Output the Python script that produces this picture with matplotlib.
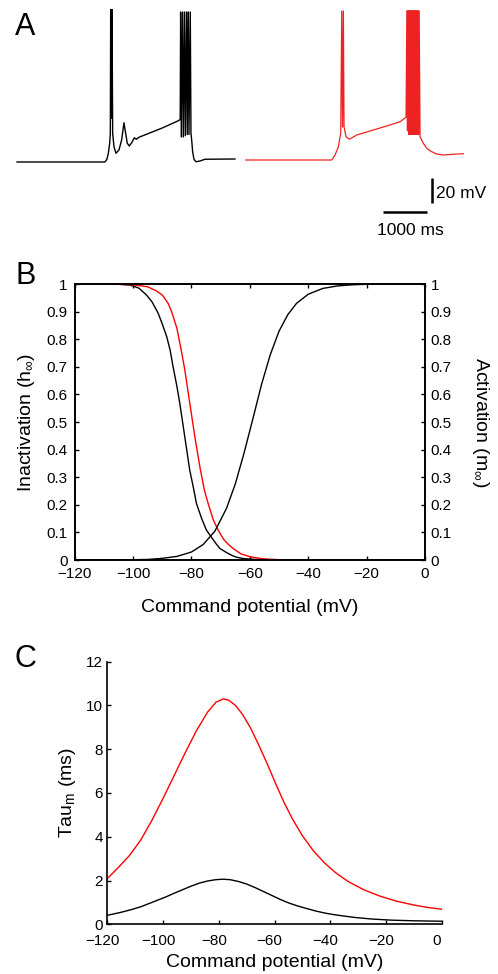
import matplotlib.pyplot as plt
import matplotlib.transforms as mtransforms
import numpy as np

plt.rcParams['font.family'] = ['Liberation Sans', 'DejaVu Sans']
plt.rcParams['mathtext.fontset'] = 'custom'
plt.rcParams['mathtext.rm'] = 'Liberation Sans'
plt.rcParams['mathtext.it'] = 'Liberation Sans:italic'

RED = '#ee2222'

# ---- Panel A: voltage traces (time in ms, membrane potential in mV) ----
black_t = [0, 2000, 2044, 2076, 2107, 2122, 2130, 2145, 2160, 2175, 2205, 2250,
           2318, 2379, 2432, 2470, 2507, 2553, 2607, 2667, 2712, 2773, 3289,
           3667, 3710, 3720, 3735, 3766, 3780, 3811, 3825, 3857, 3870, 3894,
           3910, 3939, 3955, 3971, 3993, 4023, 4069, 4160, 4273, 4955]
black_v = [-70, -70, -67.8, -63, -55, -47, 52, -35, 52, -47, -57.8, -63,
           -60.4, -52.4, -38.6, -47, -55, -57.2, -54.6, -50.6, -51.8, -50.2, -43,
           -37, -36, 50, -50, 50, -50, 50, -49, 50, -48, 50,
           -48, 50, -47, -52.4, -61.8, -67.8, -69.8, -69.2, -67.8, -67.6]

red_t = [0, 1955, 2030, 2105, 2159, 2182, 2200, 2219, 2234, 2280, 2355, 2523,
         2825, 3205, 3507, 3644, 3662, 3676, 3690, 3704, 3718, 3732, 3746, 3760,
         3774, 3788, 3802, 3816, 3830, 3844, 3858, 3872, 3886, 3900, 3914, 3928,
         3942, 3962, 4037, 4114, 4228, 4341, 4492, 4719, 4946]
red_v = [-68.4, -68.4, -64.4, -57.8, -47, 50.8, -42, 50.8, -41.8, -49.8, -51.8, -48.4,
         -45.2, -41.2, -37.8, -34.2, 51, -45, 51, -48, 51, -48, 51, -48,
         51, -48, 51, -48, 51, -48, 51, -48, 51, -48, 51, -48,
         51, -49.8, -55, -59, -61.8, -63.6, -64.4, -63.8, -63.4]

# ---- Panel B: steady-state inactivation / activation ----
h_black_v = [-120, -105, -101, -98, -95.4, -93.5, -91.4, -90, -88.5, -87.3, -86.3,
             -85, -84, -82.3, -80.6, -79.3, -78.3, -76.5, -74.9, -73, -71.5,
             -70.3, -68, -66, -64.6, -62, -58, -50, 0]
h_black = [1.0, 0.999, 0.996, 0.985, 0.96, 0.935, 0.894, 0.855, 0.81, 0.76, 0.70,
           0.63, 0.568, 0.447, 0.326, 0.26, 0.205, 0.15, 0.109, 0.08, 0.058,
           0.042, 0.027, 0.016, 0.01, 0.005, 0.002, 0.0, 0.0]

h_red_v = [-120, -105, -100, -95, -92, -90, -88, -86.8, -85, -83.5, -82.3, -80.6,
           -78.9, -77, -75.5, -74.3, -72.5, -70.9, -69, -67.5, -65.8, -63, -60,
           -56, -50, 0]
h_red = [1.0, 0.999, 0.997, 0.99, 0.975, 0.96, 0.93, 0.9, 0.84, 0.76, 0.69, 0.57,
         0.45, 0.33, 0.25, 0.205, 0.145, 0.109, 0.075, 0.058, 0.042, 0.022, 0.012,
         0.005, 0.001, 0.0]

m_v = [-120, -100, -95, -90, -85, -80, -76, -72, -68, -65, -62, -59, -56, -53,
       -50, -47, -44, -40, -35, -30, -25, -20, -10, 0]
m_black = [0.0, 0.001, 0.002, 0.006, 0.013, 0.029, 0.056, 0.104, 0.187, 0.275,
           0.387, 0.51, 0.636, 0.744, 0.829, 0.889, 0.930, 0.963, 0.984, 0.993,
           0.997, 0.999, 1.0, 1.0]

# ---- Panel C: activation time constant ----
tau_red_v = [-120, -116, -112, -108, -104, -100, -96, -92, -88, -84, -81, -78.4,
             -76.4, -74, -71.5, -68.5, -65.5, -62.5, -59.5, -56.5, -53.5, -50,
             -46, -42, -38, -33.5, -28, -22, -16, -10, -5, 0]
tau_red = [2.09, 2.6, 3.15, 3.85, 4.75, 5.75, 6.8, 7.85, 8.85, 9.7, 10.15, 10.30,
           10.24, 10.0, 9.6, 8.95, 8.15, 7.3, 6.4, 5.55, 4.8, 4.05,
           3.35, 2.8, 2.35, 1.95, 1.58, 1.28, 1.05, 0.88, 0.77, 0.69]

tau_black_v = [-120, -115, -111.4, -108, -105, -102, -99, -96, -93, -90, -87, -84,
               -81, -78.4, -76, -73, -70, -67, -64, -61, -58, -55, -52, -49, -45,
               -41, -37, -31, -25, -18, -10, 0]
tau_black = [0.41, 0.55, 0.67, 0.80, 0.95, 1.1, 1.25, 1.42, 1.58, 1.74, 1.88, 1.98,
             2.04, 2.06, 2.04, 1.96, 1.84, 1.68, 1.5, 1.32, 1.14, 0.98, 0.85, 0.74, 0.6,
             0.49, 0.41, 0.31, 0.24, 0.19, 0.16, 0.14]

frac_ticks = np.round(np.arange(0, 1.01, 0.1), 1)
frac_labels = ['0'] + [f'{v:.1f}' for v in frac_ticks[1:-1]] + ['1']

W, H = 498, 974
fig = plt.figure(figsize=(W / 100, H / 100), dpi=100)

# Panel A
axA = fig.add_axes([0, 1 - 245 / H, 1, 245 / H])
axA.plot(black_t, black_v, color='k', lw=1.0)
red_offset = 5200
axA.plot(np.array(red_t) + red_offset, red_v, color=RED, lw=0.9)
axA.set_xlim(-386, 10934)
axA.set_ylim(-136.4, 59.6)
axA.axis('off')
# scale bars
axA.plot([9426, 9426], [-103, -83], color='k', lw=1.8, solid_capstyle='butt')
axA.plot([8326, 9326], [-109.8, -109.8], color='k', lw=1.8, solid_capstyle='butt')
axA.text(9534, -95, '20 mV', ha='left', va='center', fontsize=12.5)
axA.text(8933, -125.2, '1000 ms', ha='center', va='center', fontsize=12.5)

# Panel B
axB = fig.add_axes([74.7 / W, 1 - 560 / H, 350.3 / W, 276 / H])
axB.plot(h_black_v, h_black, color='k', lw=1.0)
axB.plot(h_red_v, h_red, color='red', lw=1.0)
axB.plot(m_v, m_black, color='k', lw=1.0)
axB.set_xlim(-120, 0)
axB.set_ylim(0, 1)
axB.set_xticks(range(-120, 1, 20))
axB.set_yticks(frac_ticks)
axB.set_yticklabels(frac_labels)
axB.tick_params(direction='in', length=3, width=1, labelsize=11, top=True, pad=5)
axB.set_xlabel('Command potential (mV)', fontsize=14, labelpad=13)
axB.set_ylabel(r'Inactivation (h$_{\mathregular{\infty}}$)', fontsize=14, labelpad=7)
axB2 = axB.twinx()
axB2.set_ylim(0, 1)
axB2.set_yticks(frac_ticks)
axB2.set_yticklabels(frac_labels)
axB2.tick_params(direction='in', length=3, width=1, labelsize=11, pad=4)
axB2.set_ylabel(r'Activation (m$_{\mathregular{\infty}}$)', fontsize=14,
                rotation=270, va='bottom', labelpad=13)
for ax in (axB, axB2):
    for s in ax.spines.values():
        s.set_linewidth(1.2)

# Panel C
axC = fig.add_axes([107.3 / W, 1 - 924.3 / H, 334.4 / W, 262.6 / H])
axC.plot(tau_red_v, tau_red, color='red', lw=1.0)
axC.plot(tau_black_v, tau_black, color='k', lw=1.0)
axC.set_xlim(-120, 0)
axC.set_ylim(0, 12)
axC.set_xticks(range(-120, 1, 20))
axC.set_yticks(range(0, 13, 2))
axC.spines['top'].set_visible(False)
axC.spines['right'].set_visible(False)
for s in ('left', 'bottom'):
    axC.spines[s].set_linewidth(1.2)
axC.tick_params(direction='in', length=3, width=1, labelsize=11, pad=7)
axC.tick_params(axis='y', pad=3)
shift = mtransforms.ScaledTranslation(-5 / 100, 0, fig.dpi_scale_trans)
for lbl in axC.get_xticklabels():
    lbl.set_transform(lbl.get_transform() + shift)
axC.set_xlabel('Command potential (mV)', fontsize=14, labelpad=4)
axC.set_ylabel(r'Tau$_{\mathregular{m}}$ (ms)', fontsize=14, labelpad=6)

# Panel letters
fig.text(15 / W, 1 - 27 / H, 'A', fontsize=22, ha='left', va='center')
fig.text(15 / W, 1 - 276 / H, 'B', fontsize=22, ha='left', va='center')
fig.text(15 / W, 1 - 659 / H, 'C', fontsize=22, ha='left', va='center')

fig.savefig('out.png', dpi=100)
